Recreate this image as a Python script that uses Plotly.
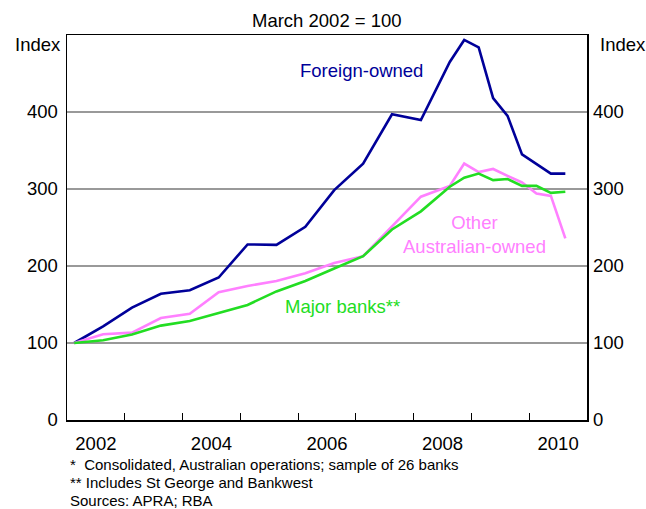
import plotly.graph_objects as go

# Observation dates (year-month)
dates = ["2002-03", "2002-09", "2003-03", "2003-09", "2004-03", "2004-09",
         "2005-03", "2005-09", "2006-03", "2006-09", "2007-03", "2007-09",
         "2008-03", "2008-09", "2008-12", "2009-03", "2009-06", "2009-09",
         "2009-12", "2010-03", "2010-06", "2010-09"]

foreign_owned = [100, 121.7, 146, 164, 168.5, 185, 228, 227.5, 251, 298.6, 333,
                 397, 389.6, 465, 493.6, 484, 418, 395, 345, 333, 320, 320]
other_australian = [100, 111.3, 113.5, 132.5, 138, 166, 174, 180.6, 190.6, 204,
                    212.7, 251, 290, 304, 333, 322, 326, 317, 308.5, 294, 291, 235.8]
major_banks = [100, 103.5, 111, 122.6, 128.6, 139.5, 149.4, 167, 180.6, 196.7,
               212.7, 247.5, 271, 303, 314.6, 320, 311.6, 313, 304, 304, 295, 296.4]

year_labels = ["2002", "2004", "2006", "2008", "2010"]
y_ticks = [0, 100, 200, 300, 400]


def to_decimal(d):
    y, m = d.split("-")
    return int(y) + (int(m) - 1.5) / 12.0


x = [to_decimal(d) for d in dates]

NAVY = "#000099"
PINK = "#ff80ff"
GREEN = "#22dd22"
FONT = "Liberation Sans, Arial, sans-serif"
FS = 18.5

fig = go.Figure()
fig.add_trace(go.Scatter(x=x, y=foreign_owned, mode="lines",
                         line=dict(color=NAVY, width=2.6), name="Foreign-owned"))
fig.add_trace(go.Scatter(x=x, y=other_australian, mode="lines",
                         line=dict(color=PINK, width=2.6), name="Other Australian-owned"))
fig.add_trace(go.Scatter(x=x, y=major_banks, mode="lines",
                         line=dict(color=GREEN, width=2.6), name="Major banks", yaxis="y2"))

label_vals = [int(v) + 0.5 for v in year_labels]
boundaries = list(range(2003, 2011))

fig.update_layout(
    width=646, height=509,
    margin=dict(l=66.8, r=58.5, t=35, b=89.4),
    paper_bgcolor="white", plot_bgcolor="white",
    showlegend=False,
    font=dict(family=FONT, size=FS, color="black"),
    xaxis=dict(range=[2002, 2011], tickvals=label_vals, ticktext=year_labels,
               ticks="", showgrid=False, zeroline=False,
               showline=True, linecolor="black", linewidth=1.5, mirror=True,
               tickfont=dict(size=FS), ticklabelstandoff=6,
               minor=dict(tickvals=boundaries, ticks="inside", ticklen=7,
                          tickcolor="black", tickwidth=1, showgrid=False)),
    yaxis=dict(range=[0, 500], tickvals=y_ticks, ticks="", showgrid=True,
               gridcolor="#999999", gridwidth=1.3, zeroline=False,
               showline=True, linecolor="black", linewidth=1.5, mirror=True,
               tickfont=dict(size=FS), ticklabelstandoff=4),
    yaxis2=dict(range=[0, 500], tickvals=y_ticks, ticks="", showgrid=False,
                zeroline=False, overlaying="y", side="right", showline=False,
                tickfont=dict(size=FS), ticklabelstandoff=5),
)

fig.add_annotation(text="March 2002 = 100", xref="paper", yref="paper",
                   x=0.5, y=1.0, yshift=15, showarrow=False,
                   font=dict(size=FS), xanchor="center", yanchor="middle")
fig.add_annotation(text="Index", xref="paper", yref="paper", x=0, y=1.0,
                   xshift=-54, yshift=-9.5, showarrow=False, font=dict(size=FS),
                   xanchor="left", yanchor="middle")
fig.add_annotation(text="Index", xref="paper", yref="paper", x=1, y=1.0,
                   xshift=10.5, yshift=-9.5, showarrow=False, font=dict(size=FS),
                   xanchor="left", yanchor="middle")

fig.add_annotation(text="Foreign-owned", x=2007.10, y=454, showarrow=False,
                   font=dict(size=FS, color=NAVY), xanchor="center", yanchor="middle")
fig.add_annotation(text="Other<br>Australian-owned", x=2009.06, y=241,
                   showarrow=False, font=dict(size=FS, color=PINK),
                   xanchor="center", yanchor="middle", align="center")
fig.add_annotation(text="Major banks**", x=2006.77, y=147.5, showarrow=False,
                   font=dict(size=FS, color=GREEN), xanchor="center", yanchor="middle")

foot = ["*  Consolidated, Australian operations; sample of 26 banks",
        "** Includes St George and Bankwest",
        "Sources: APRA; RBA"]
for i, t in enumerate(foot):
    fig.add_annotation(text=t, xref="paper", yref="paper", x=0, y=0,
                       xshift=1, yshift=-44.4 - 18 * i, showarrow=False,
                       font=dict(size=15), xanchor="left", yanchor="middle")

fig.write_html("out.html",
               config={"displayModeBar": False, "staticPlot": True},
               post_script="document.body.style.margin='0';"
                           "document.body.style.overflow='hidden';")
